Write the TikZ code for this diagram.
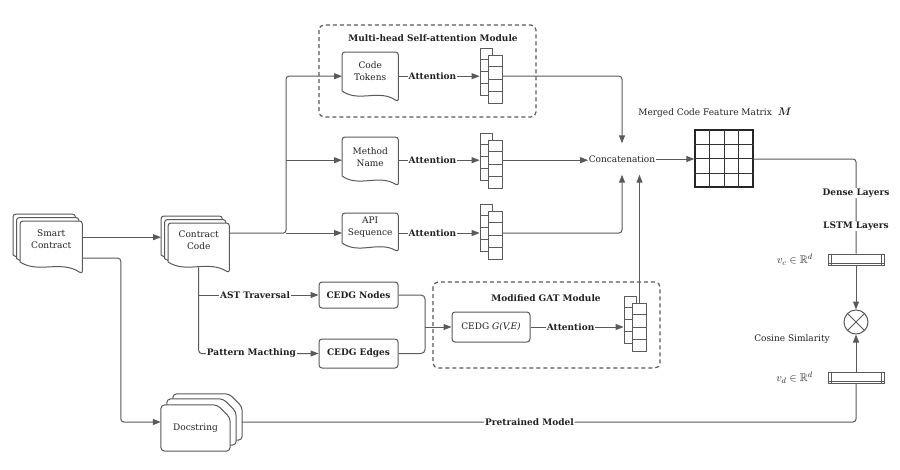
\documentclass[tikz,border=0pt]{standalone}
\usepackage{fontspec}
\setmainfont{DejaVu Serif}
\usepackage{amsmath,amssymb,bm}
\usetikzlibrary{arrows.meta,calc}
\pgfdeclarelayer{back}
\pgfdeclarelayer{bg}
\pgfsetlayers{back,bg,main}
\definecolor{ln}{HTML}{5A5A5A}
\definecolor{txt}{HTML}{222222}
\newcommand\dfnt{\fontsize{9}{12}\selectfont}
\newcommand\dbfnt{\fontsize{9}{12}\selectfont\bfseries}
% document shape: name, left depth, right depth, dx, dy
\newcommand\docshape[5]{%
  \draw[docline] ($(#1.north west)+(#4,#5+#2)$) [rounded corners=3pt] -- ($(#1.north west)+(#4,#5)$) -- ($(#1.north east)+(#4,#5)$) -- ($(#1.north east)+(#4,#5+#3)$) [sharp corners] .. controls ($(#1.north west)!0.65!(#1.north east)+(#4,#5+#2-2.5)$) and ($(#1.north west)!0.3!(#1.north east)+(#4,#5+#2+12)$) .. ($(#1.north west)+(#4,#5+#2)$) -- cycle;}
% card with clipped corner: name, dx, dy
\newcommand\cardshape[3]{%
  \draw[docline, rounded corners=4pt] ($(#1.south west)+(#2,#3)$) -- ($(#1.north west)+(#2,#3)$) -- ($(#1.north east)+(#2-13,#3)$) -- ($(#1.north east)+(#2,#3+13)$) -- ($(#1.south east)+(#2,#3)$) -- cycle;}
% cells of a column node
\newcommand\colcells[1]{%
  \foreach \k in {1,2,3} {\draw[draw=ln, line width=0.8pt] ($(#1.north west)!\k/4!(#1.south west)$) -- ($(#1.north east)!\k/4!(#1.south east)$);}}
\tikzset{
  line/.style={draw=ln, line width=1pt},
  arr/.style={line, -{Triangle[length=8pt,width=6pt]}},
  docline/.style={draw=ln, line width=1pt, fill=white},
  doc/.style={inner sep=0pt, align=center, font=\dfnt, text=txt},
  lbl/.style={fill=white, inner sep=1pt, font=\dbfnt, text=txt},
  plain/.style={inner sep=1pt, font=\dfnt, text=txt},
  mathl/.style={inner sep=1pt, font=\fontsize{11}{12}\selectfont, text=txt},
  box/.style={draw=ln, line width=1pt, rounded corners=3pt, fill=white, font=\dbfnt, text=txt, inner sep=0pt},
  colB/.style={draw=ln, line width=0.8pt, fill=white, minimum width=12pt, minimum height=47pt, inner sep=0pt},
  colF/.style={draw=ln, line width=0.8pt, fill=white, minimum width=14pt, minimum height=48pt, inner sep=0pt},
  modbox/.style={draw=ln, line width=1.2pt, dash pattern=on 4pt off 3pt, rounded corners=5pt},
  bar/.style={draw=ln, line width=1pt, fill=white, minimum width=56pt, minimum height=11pt, inner sep=0pt},
}
\begin{document}
\begin{tikzpicture}[x=1pt,y=-1pt]
\begin{pgfonlayer}{back}
\fill[white] (0,0) rectangle (900,469);
\end{pgfonlayer}
\useasboundingbox (0,0) rectangle (900,469);

% ---------- document nodes ----------
\node[doc, minimum width=62pt, minimum height=36pt, anchor=north west] (sc) at (20,221) {Smart\\Contract};
\node[doc, minimum width=61pt, minimum height=34pt, anchor=north west] (cc) at (168,223) {Contract\\Code};
\node[doc, minimum width=56pt, minimum height=38pt, anchor=north west] (ct) at (342,52) {Code\\Tokens};
\node[doc, minimum width=56pt, minimum height=40pt, anchor=north west] (mn) at (342,137) {Method\\Name};
\node[doc, minimum width=56pt, minimum height=28pt, anchor=north west] (ap) at (342,213) {API\\Sequence};
\node[doc, minimum width=69pt, minimum height=46pt] (ds) at (195.5,428) {Docstring};

% ---------- module labels ----------
\node[lbl, fill=none] (mhsa) at (433,38) {Multi-head Self-attention Module};
\node[lbl, fill=none] (gatl) at (546,298) {Modified GAT Module};

% ---------- boxes ----------
\node[box, minimum width=79pt, minimum height=26pt] (cn) at (358.5,295) {CEDG Nodes};
\node[box, minimum width=79pt, minimum height=29pt] (ce) at (358.5,353.5) {CEDG Edges};
\node[box, font=\dfnt, minimum width=78pt, minimum height=30pt] (cg) at (491,327) {CEDG \textit{G(V,E)}};

% ---------- column arrays ----------
\node[colB] (taB) at (486,71.5) {}; \colcells{taB}
\node[colF] (ta) at (495,79) {}; \colcells{ta}
\node[colB] (maB) at (486,156.5) {}; \colcells{maB}
\node[colF] (ma) at (495,164) {}; \colcells{ma}
\node[colB] (aaB) at (486,227.5) {}; \colcells{aaB}
\node[colF] (aa) at (495,235) {}; \colcells{aa}
\node[colB] (gaB) at (630,319.5) {}; \colcells{gaB}
\node[colF] (ga) at (639.5,327) {}; \colcells{ga}

% ---------- concatenation & matrix ----------
\node[plain, inner xsep=0.5pt, minimum height=31pt] (cat) at (622,159) {Concatenation};
\node[draw=black!85, line width=1.3pt, minimum width=58pt, minimum height=57pt, inner sep=0pt] (mat) at (724,158.5) {};
\foreach \k in {1,2,3} {
  \draw[black!80, line width=0.7pt] ($(mat.north west)!\k/4!(mat.north east)$) -- ($(mat.south west)!\k/4!(mat.south east)$);
  \draw[black!80, line width=0.7pt] ($(mat.north west)!\k/4!(mat.south west)$) -- ($(mat.north east)!\k/4!(mat.south east)$);
}
\node[plain] (matl) at (715,113) {Merged Code Feature Matrix\hspace{6pt}{\fontsize{11}{12}\selectfont$\bm{M}$}};

% ---------- right column ----------
\node[bar] (vc) at (856,259.5) {};
\node[bar] (vd) at (856,377.5) {};
\foreach \b in {vc,vd} {
  \draw[draw=ln, line width=0.8pt] ($(\b.north west)+(3.5,0)$) -- ($(\b.south west)+(3.5,0)$);
  \draw[draw=ln, line width=0.8pt] ($(\b.north east)+(-3.5,0)$) -- ($(\b.south east)+(-3.5,0)$);
  \draw[draw=ln, line width=0.8pt] ($(\b.south west)+(0,-1.8)$) -- ($(\b.south east)+(0,-1.8)$);
}
\node[circle, draw=ln, line width=1pt, minimum size=24pt, inner sep=0pt] (cos) at (856,322) {};
\draw[draw=ln, line width=1pt] (cos.north east) -- (cos.south west) (cos.north west) -- (cos.south east);
\node[mathl, anchor=east] (vcl) at (814,260) {$v_c \in \mathbb{R}^d$};
\node[mathl, anchor=east] (vdl) at (814,378) {$v_d \in \mathbb{R}^d$};
\node[plain] (cosl) at (792,339) {Cosine Simlarity};

% ---------- background shapes ----------
\begin{pgfonlayer}{bg}
  \draw[modbox] (319,25) rectangle (536,117);
  \draw[modbox] (433,282) rectangle (660,368);
  \docshape{sc}{41}{53}{-7}{-7}
  \docshape{sc}{41}{53}{-3.5}{-3.5}
  \docshape{sc}{41}{53}{0}{0}
  \docshape{cc}{39}{50}{-7}{-7}
  \docshape{cc}{39}{50}{-3.5}{-3.5}
  \docshape{cc}{39}{50}{0}{0}
  \docshape{ct}{39}{50}{0}{0}
  \docshape{mn}{39}{49}{0}{0}
  \docshape{ap}{30}{39}{0}{0}
  \cardshape{ds}{12}{-11}
  \cardshape{ds}{6}{-6}
  \cardshape{ds}{0}{0}
\end{pgfonlayer}

% ---------- coordinates ----------
\coordinate (scout) at ([yshift=2pt]sc.east);
\coordinate (ccin) at ([xshift=-7pt]cc.west);
\coordinate (ccout) at ([yshift=7pt]cc.east);
\coordinate (j1) at (286,233);
\coordinate (ctin) at ([yshift=-5pt]ct.west);
\coordinate (mnin) at ([yshift=-3pt]mn.west);
\coordinate (ccb) at ([yshift=-10pt]cc.south);
\coordinate (mx) at (425,327);
\coordinate (scout2) at ([yshift=-19pt]sc.east);
\coordinate (dsin) at ([yshift=6pt]ds.west);
\coordinate (dsr) at ([xshift=12pt,yshift=6pt]ds.east);

% ---------- connectors ----------
\draw[arr] (scout) -- (scout -| ccin);
\draw[arr, rounded corners=3pt] (scout2) -| ([xshift=-40pt]dsin) -- (dsin);
\draw[arr, rounded corners=3pt] (ccout) -| (j1 |- ctin) -- (ctin);
\draw[arr] (j1 |- mnin) -- (mnin);
\draw[arr] (j1) -- (j1 -| ap.west);

\draw[arr] (ctin -| ct.east) -- (ctin -| taB.west) node[lbl, pos=0.42] {Attention};
\draw[arr] (mnin -| mn.east) -- (mnin -| maB.west) node[lbl, pos=0.42] {Attention};
\draw[arr] (j1 -| ap.east) -- (j1 -| aaB.west) node[lbl, pos=0.42] {Attention};

\draw[arr, rounded corners=3pt] (ctin -| ta.east) -| (cat.north);
\draw[arr] (mnin -| ma.east) -- (mnin -| cat.west);
\draw[arr, rounded corners=3pt] (j1 -| aa.east) -| (cat.south);
\draw[arr] (ga.north) -- (ga.north |- cat.south);

\draw[arr] (ccb |- cn.west) -- (cn.west) node[lbl, pos=0.47] {AST Traversal};
\draw[arr, rounded corners=3pt] (ccb) |- (ce.west) node[lbl, pos=0.72] {Pattern Macthing};
\draw[line, rounded corners=4pt] (cn.east) -| (mx);
\draw[line, rounded corners=4pt] (ce.east) -| (mx);
\draw[arr] (mx) -- (cg.west);
\draw[arr] (cg.east) -- (cg.east -| gaB.west) node[lbl, pos=0.43] {Attention};

\draw[arr] (cat.east) -- (cat.east -| mat.west);
\draw[line, rounded corners=3pt] (cat.east -| mat.east) -| (vc.north);
\node[lbl] (dense) at (856,193) {Dense Layers};
\node[lbl] (lstm) at (856,226) {LSTM Layers};
\draw[arr] (vc.south) -- (cos.north);
\draw[arr] (vd.north) -- (cos.south);
\draw[line, rounded corners=3pt] (vd.south) |- (dsr) node[lbl, pos=0.766] {Pretrained Model};
\end{tikzpicture}
\end{document}
